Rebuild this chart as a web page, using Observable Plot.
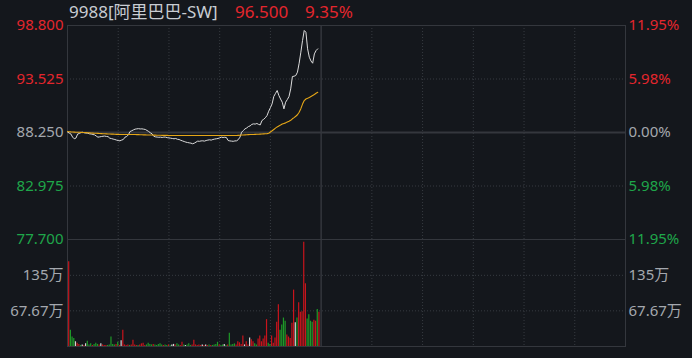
<!DOCTYPE html>
<html><head><meta charset="utf-8">
<script src="https://cdn.jsdelivr.net/npm/d3@7"></script>
<script src="https://cdn.jsdelivr.net/npm/@observablehq/plot@0.6"></script>
<style>
body{margin:0;background:#14171c;}
#wrap{position:relative;width:692px;height:358px;background:#14171c;overflow:hidden;font-family:"Noto Sans","Noto Sans CJK SC",sans-serif;}
#wrap svg{position:absolute;left:0;overflow:visible;background:transparent;}
.tt{position:absolute;top:1px;font-size:17px;line-height:22px;white-space:nowrap;}
</style></head>
<body><div id="wrap"></div>
<script>
const stockName = "9988[阿里巴巴-SW]";
const lastPrice = "96.500";
const lastPct = "9.35%";
const prevClose = 88.25;
const priceTicks = [98.8, 93.525, 88.25, 82.975, 77.7];
const volTicks = [67.67, 135];
const volTickLabels = ["67.67万", "135万"];
const volMax = 203;
const sessionMinutes = 330;
const timeGrid = [30, 60, 90, 120, 180, 210, 240, 270, 300];
const noonBreak = [150];

const price = [
88.30,88.20,88.10,87.80,87.63,87.70,88.10,88.15,88.25,88.28,
88.22,88.20,88.18,88.12,88.10,88.05,88.02,87.90,87.79,87.82,
87.85,87.88,87.90,87.86,87.84,87.69,87.65,87.60,87.56,87.50,
87.46,87.43,87.50,87.56,87.79,87.85,88.02,88.35,88.42,88.51,
88.58,88.61,88.63,88.60,88.61,88.58,88.55,88.45,88.35,88.22,
88.12,87.88,87.82,87.80,87.78,87.79,87.76,87.80,87.79,87.74,
87.72,87.69,87.66,87.63,87.66,87.58,87.56,87.48,87.42,87.36,
87.30,87.26,87.23,87.20,87.14,87.20,87.30,87.40,87.38,87.42,
87.43,87.40,87.46,87.50,87.53,87.50,87.56,87.60,87.63,87.66,
87.72,87.79,87.76,87.78,87.75,87.46,87.42,87.40,87.38,87.42,
87.43,87.55,87.79,88.28,88.45,88.61,88.70,88.84,88.90,89.05,
89.10,89.08,89.14,89.05,89.00,89.43,89.55,89.70,89.92,90.35,
90.70,91.08,91.80,92.10,92.39,91.90,91.55,91.24,90.58,91.24,
91.50,91.80,92.55,93.77,93.80,93.87,94.20,95.08,96.17,97.32,
98.31,98.14,96.50,95.67,95.30,95.08,96.00,96.33,96.50
];

const avgPrice = [
88.35,88.33,88.31,88.30,88.29,88.28,88.27,88.27,88.26,88.25,
88.25,88.24,88.22,88.21,88.20,88.19,88.18,88.17,88.16,88.15,
88.14,88.13,88.12,88.11,88.10,88.10,88.09,88.09,88.08,88.07,
88.07,88.06,88.06,88.05,88.05,88.05,88.05,88.05,88.05,88.05,
88.05,88.04,88.04,88.03,88.03,88.02,88.02,88.01,88.01,88.00,
88.00,87.99,87.99,87.98,87.98,87.98,87.97,87.97,87.97,87.97,
87.96,87.96,87.96,87.96,87.96,87.95,87.95,87.95,87.95,87.95,
87.95,87.95,87.95,87.95,87.95,87.95,87.95,87.95,87.95,87.95,
87.95,87.95,87.95,87.95,87.95,87.95,87.95,87.95,87.95,87.95,
87.95,87.95,87.95,87.95,87.95,87.95,87.95,87.95,87.95,87.95,
87.96,87.97,87.98,88.00,88.01,88.02,88.03,88.04,88.05,88.05,
88.06,88.07,88.08,88.08,88.09,88.10,88.11,88.12,88.14,88.18,
88.30,88.42,88.55,88.68,88.80,88.90,88.98,89.08,89.14,89.20,
89.28,89.36,89.45,89.60,89.72,89.85,90.00,90.25,90.60,91.05,
91.40,91.55,91.62,91.70,91.80,91.90,92.00,92.12,92.22
];

const volume = [
161,31,18,15,9,6,4,2,3,2,
5,10,3,5,2,4,6,4,3,5,
3,2,2,2,3,18,4,3,4,8,
2,11,31,3,2,3,2,3,12,3,
2,2,3,5,6,2,3,6,4,3,
4,3,2,4,5,3,2,3,2,3,
2,3,4,3,5,3,2,8,3,2,
3,5,2,3,12,3,2,3,2,3,
2,3,2,3,2,2,3,4,8,3,
2,3,4,2,3,25,3,4,5,3,
9,7,4,20,3,9,3,16,13,9,
5,3,14,20,9,14,20,51,6,4,
20,6,16,46,79,31,41,54,48,22,
18,15,44,107,45,54,83,65,66,198,
119,52,60,48,46,50,48,70,65
];

const volumeDir = [
"r","g","g","g","w","r","r","g","w","r",
"w","g","g","g","r","g","g","g","r","w",
"r","r","r","g","g","g","g","g","r","g",
"r","w","r","r","r","r","g","r","r","r",
"r","g","r","r","r","r","g","g","g","g",
"r","g","g","g","g","g","r","g","g","r",
"g","w","w","r","g","g","r","r","g","w",
"g","g","g","r","r","r","r","r","r","w",
"r","w","r","g","r","g","g","g","g","r",
"g","g","w","g","r","g","g","g","g","r",
"r","r","r","r","w","r","r","w","r","r",
"g","g","r","r","r","r","r","r","g","g",
"r","r","r","r","r","g","g","g","g","r",
"r","r","r","r","w","g","r","r","r","r",
"r","g","g","g","g","r","r","g","r"
];

const RED = "#e4262d", GREEN = "#1fa64a", GRAY = "#a4a8ae", TITLE = "#c8ccd2";
const BAR = {r: "#c8141c", g: "#1e9a28", w: "#d6d6d6"};
const GRID = "#373b41", SOLID = "#34373d";

const series = price.map((p, i) => ({m: i, p, avg: avgPrice[i]}));
const bars = volume.map((v, i) => ({m: i, v, c: volumeDir[i]}));

const tickColor = d => d > prevClose ? RED : d < prevClose ? GREEN : GRAY;
const pctText = d => (Math.abs(d - prevClose) / prevClose * 100).toFixed(2) + "%";

const font = '"Noto Sans","Noto Sans CJK SC",sans-serif';
const common = {
  width: 692, marginLeft: 67, marginRight: 67,
  x: {domain: [0, sessionMinutes], axis: null},
  style: {background: "transparent", fontFamily: font, fontSize: "15px", overflow: "visible"}
};

const pricePlot = Plot.plot({
  ...common,
  height: 246, marginTop: 25, marginBottom: 7,
  y: {domain: [77.7, 98.8], axis: null},
  marks: [
    Plot.ruleY([93.525, 82.975], {stroke: GRID, strokeDasharray: "1,2"}),
    Plot.ruleX(timeGrid, {stroke: GRID, strokeDasharray: "1,2"}),
    Plot.ruleY([prevClose], {stroke: SOLID, strokeWidth: 2}),
    Plot.ruleX(noonBreak, {stroke: SOLID, strokeWidth: 1.5}),
    Plot.frame({stroke: SOLID}),
    Plot.line(series, {x: "m", y: "p", stroke: "#dcdcdc", strokeWidth: 1}),
    Plot.line(series, {x: "m", y: "avg", stroke: "#e5a617", strokeWidth: 1.1}),
    Plot.text(priceTicks, {y: d => d, text: d => d.toFixed(3), frameAnchor: "left", textAnchor: "end", dx: -4, fill: tickColor, fontSize: 15}),
    Plot.text(priceTicks, {y: d => d, text: pctText, frameAnchor: "right", textAnchor: "start", dx: 3, fill: tickColor, fontSize: 15})
  ]
});
pricePlot.style.top = "0px";

const volPlot = Plot.plot({
  ...common,
  height: 112, marginTop: 0, marginBottom: 5,
  y: {domain: [0, volMax], axis: null},
  marks: [
    Plot.ruleY(volTicks, {stroke: GRID, strokeDasharray: "1,2"}),
    Plot.ruleX(timeGrid, {stroke: GRID, strokeDasharray: "1,2"}),
    Plot.ruleX(noonBreak, {stroke: SOLID, strokeWidth: 1.5}),
    Plot.frame({stroke: SOLID}),
    Plot.ruleX(bars, {x: "m", y1: 0, y2: "v", stroke: d => BAR[d.c], strokeWidth: 1.2, dx: 1.2}),
    Plot.text(volTicks, {y: d => d, text: (d, i) => volTickLabels[i], frameAnchor: "left", textAnchor: "end", dx: -4, fill: GRAY, fontSize: 15}),
    Plot.text(volTicks, {y: d => d, text: (d, i) => volTickLabels[i], frameAnchor: "right", textAnchor: "start", dx: 3, fill: GRAY, fontSize: 15})
  ]
});
volPlot.style.top = "239px";

const wrap = document.getElementById("wrap");
[[stockName, 69, TITLE], [lastPrice, 235, RED], [lastPct, 305, RED]].forEach(([t, x, c]) => {
  const s = document.createElement("div");
  s.className = "tt";
  s.textContent = t; s.style.left = x + "px"; s.style.color = c;
  wrap.appendChild(s);
});
wrap.appendChild(pricePlot);
wrap.appendChild(volPlot);
</script></body></html>
